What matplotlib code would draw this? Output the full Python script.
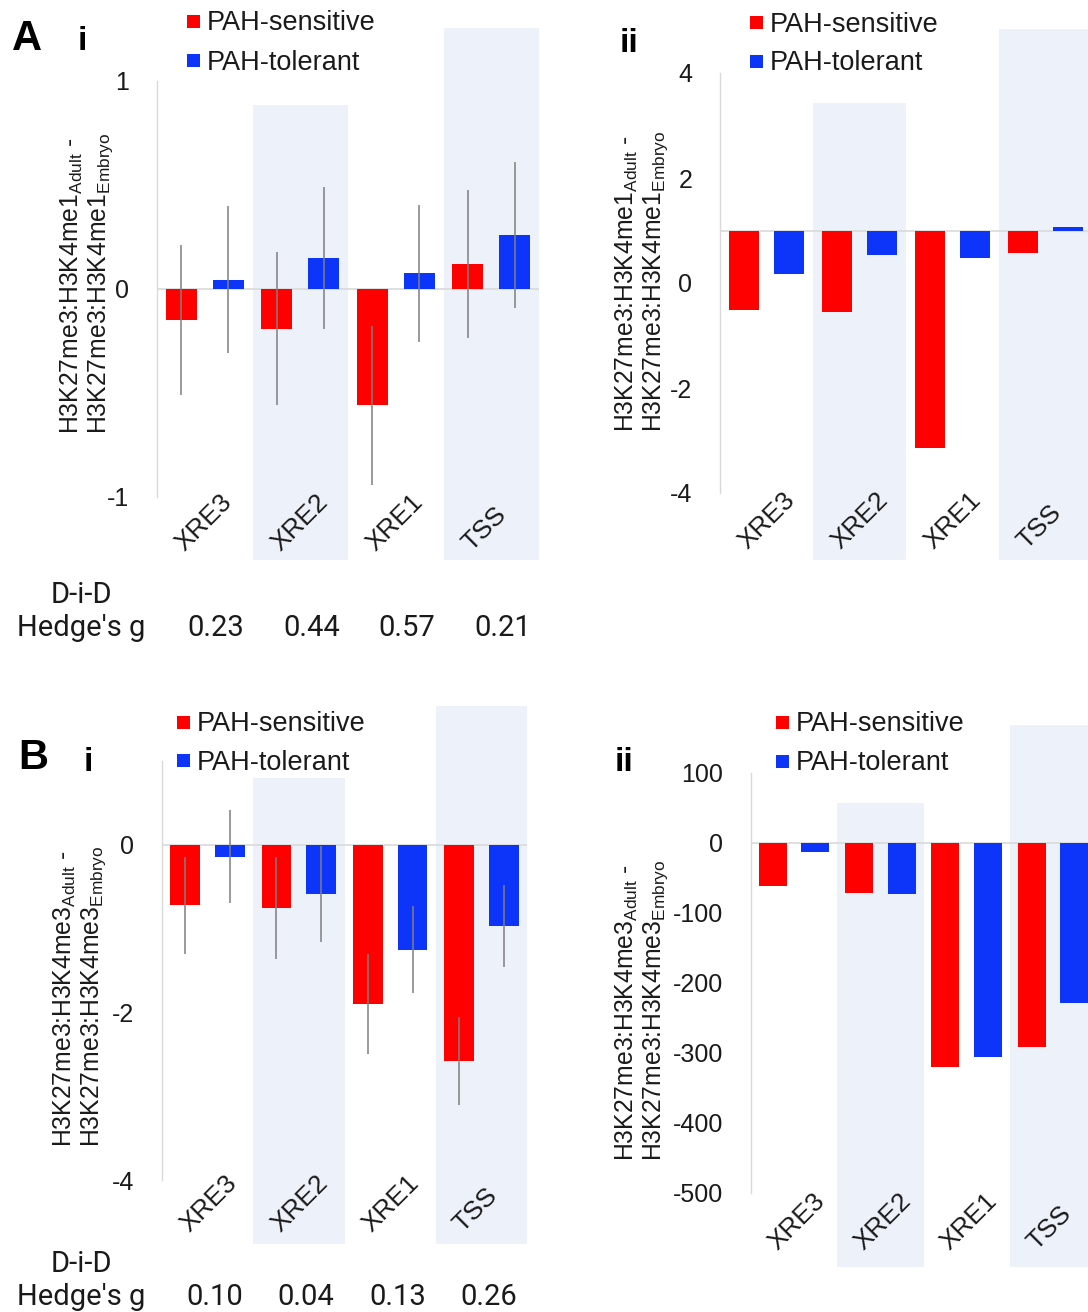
import matplotlib
matplotlib.use("Agg")
import matplotlib.pyplot as plt
from matplotlib.patches import Rectangle
import matplotlib.transforms as mtransforms
import numpy as np

plt.rcParams['font.family'] = ['Liberation Sans', 'DejaVu Sans']
plt.rcParams['mathtext.fontset'] = 'custom'
plt.rcParams['mathtext.rm'] = 'Liberation Sans'
plt.rcParams['mathtext.it'] = 'Liberation Sans'
plt.rcParams['mathtext.bf'] = 'Liberation Sans:bold'

# ---------------- data ----------------
categories = ['XRE3', 'XRE2', 'XRE1', 'TSS']
series_names = ['PAH-sensitive', 'PAH-tolerant']

a_i_sensitive = [-0.15, -0.19, -0.56, 0.12]
a_i_tolerant = [0.045, 0.15, 0.075, 0.26]
a_i_sensitive_err = [0.36, 0.37, 0.38, 0.355]
a_i_tolerant_err = [0.355, 0.34, 0.33, 0.35]

a_ii_sensitive = [-0.51, -0.55, -3.14, 0.57]
a_ii_tolerant = [0.18, 0.54, 0.47, 1.07]
a_ii_baseline = 1.0

b_i_sensitive = [-0.72, -0.75, -1.90, -2.58]
b_i_tolerant = [-0.145, -0.59, -1.25, -0.97]
b_i_sensitive_err = [0.58, 0.61, 0.60, 0.53]
b_i_tolerant_err = [0.555, 0.57, 0.52, 0.49]

b_ii_sensitive = [-62, -72, -320, -291]
b_ii_tolerant = [-13, -73, -306, -229]

hedges_a = ['0.23', '0.44', '0.57', '0.21']
hedges_b = ['0.10', '0.04', '0.13', '0.26']

a_yticks_i = [-1, 0, 1]
a_yticks_ii = [-4, -2, 0, 2, 4]
b_yticks_i = [-4, -2, 0]
b_yticks_ii = [-500, -400, -300, -200, -100, 0, 100]

# ---------------- styling ----------------
W, H = 1088, 1312
RED = '#FF0000'
BLUE = '#0D35FA'
BAND = '#EDF2FA'
GRID = '#D9D9D9'
ERR = '#7F7F7F'
TXT = '#1A1A1A'

fig = plt.figure(figsize=(W / 100, H / 100), dpi=100)


def fx(x):
    return x / W


def fy(y):
    return 1 - y / H


def make_ax(left, right, top, bottom):
    ax = fig.add_axes([fx(left), fy(bottom), (right - left) / W, (bottom - top) / H])
    ax.patch.set_alpha(0)
    for s in ['top', 'right', 'bottom']:
        ax.spines[s].set_visible(False)
    ax.spines['left'].set_color(GRID)
    ax.spines['left'].set_linewidth(1.0)
    ax.tick_params(axis='y', length=0, pad=20, labelsize=18, labelcolor=TXT)
    ax.set_xticks([])
    ax.set_xlim(-0.5, len(categories) - 0.5)
    return ax


def draw_panel(ax, sens, tol, ylim, yticks, baseline=0.0, sens_err=None, tol_err=None,
               bands=None, xlab_y=556):
    x = np.arange(len(categories))
    off, w = 0.246, 0.325
    trans = mtransforms.blended_transform_factory(ax.transData, fig.transFigure)
    # shaded bands
    for k, (y0, y1) in bands.items():
        ax.add_patch(Rectangle((k - 0.5, fy(y1)), 1.0, (y1 - y0) / H, transform=trans,
                               facecolor=BAND, edgecolor='none', clip_on=False, zorder=0))
    ax.axhline(baseline, color=GRID, lw=1.2, zorder=1)
    s = np.array(sens, dtype=float)
    t = np.array(tol, dtype=float)
    ax.bar(x - off, s - baseline, bottom=baseline, width=w, color=RED, zorder=2)
    ax.bar(x + off, t - baseline, bottom=baseline, width=w, color=BLUE, zorder=2)
    if sens_err is not None:
        ax.errorbar(x - off, s, yerr=sens_err, fmt='none', ecolor=ERR, elinewidth=1.1,
                    capsize=0, zorder=3)
        ax.errorbar(x + off, t, yerr=tol_err, fmt='none', ecolor=ERR, elinewidth=1.1,
                    capsize=0, zorder=3)
    ax.set_ylim(*ylim)
    ax.set_yticks(yticks)
    ax.set_yticklabels([str(v) for v in yticks])
    for i, c in enumerate(categories):
        ax.text(i - 0.35, fy(xlab_y), c, transform=trans, rotation=45, ha='left',
                va='bottom', fontsize=19, color=TXT, clip_on=False)
    return trans


def legend(x, y1, y2):
    for yy, col, name in [(y1, RED, series_names[0]), (y2, BLUE, series_names[1])]:
        fig.patches.append(Rectangle((fx(x), fy(yy + 6.5)), 13 / W, 13 / H,
                                     transform=fig.transFigure, facecolor=col,
                                     edgecolor='none'))
        fig.text(fx(x + 20), fy(yy + 9.5), name, fontsize=19.5, color=TXT,
                 ha='left', va='baseline')


def ylabel(x1, x2, ybottom, mark):
    fig.text(fx(x1), fy(ybottom),
             r'H3K27me3:H3K4me%s$_{\mathrm{Adult}}$ -' % mark,
             rotation=90, fontsize=17.8, ha='center', va='bottom', color=TXT)
    fig.text(fx(x2), fy(ybottom),
             r'H3K27me3:H3K4me%s$_{\mathrm{Embryo}}$' % mark,
             rotation=90, fontsize=17.8, ha='center', va='bottom', color=TXT)


# ---------------- A i ----------------
ax1 = make_ax(157, 539, 81, 497)
tr1 = draw_panel(ax1, a_i_sensitive, a_i_tolerant, (-1, 1), a_yticks_i,
                 sens_err=a_i_sensitive_err, tol_err=a_i_tolerant_err,
                 bands={1: (105, 560), 3: (28, 560)}, xlab_y=556)
legend(187, 21, 60)
ylabel(72, 101, 434, '1')

# ---------------- A ii ----------------
ax2 = make_ax(720, 1092, 73, 493)
draw_panel(ax2, a_ii_sensitive, a_ii_tolerant, (-4, 4), a_yticks_ii,
           baseline=a_ii_baseline, bands={1: (103, 560), 3: (29, 560)}, xlab_y=554)
legend(750, 22, 61)
ylabel(627, 656, 432, '1')

# ---------------- B i ----------------
ax3 = make_ax(162, 527, 761, 1180)
tr3 = draw_panel(ax3, b_i_sensitive, b_i_tolerant, (-4, 1), b_yticks_i,
                 sens_err=b_i_sensitive_err, tol_err=b_i_tolerant_err,
                 bands={1: (778, 1244), 3: (706, 1244)}, xlab_y=1237)
legend(177, 722, 760)
ylabel(65, 94, 1147, '3')

# ---------------- B ii ----------------
ax4 = make_ax(751, 1096, 773, 1193)
draw_panel(ax4, b_ii_sensitive, b_ii_tolerant, (-500, 100), b_yticks_ii,
           bands={1: (803, 1267), 3: (725, 1267)}, xlab_y=1255)
legend(776, 722, 761)
ylabel(627, 656, 1161, '3')

# ---------------- panel letters ----------------
fig.text(fx(12), fy(50), 'A', fontsize=30, fontweight='bold', ha='left', va='baseline')
fig.text(fx(82), fy(50), 'i', fontsize=24, fontweight='bold', ha='center', va='baseline')
fig.text(fx(629), fy(52), 'ii', fontsize=24, fontweight='bold', ha='center', va='baseline')
fig.text(fx(18), fy(769), 'B', fontsize=30, fontweight='bold', ha='left', va='baseline')
fig.text(fx(88), fy(771), 'i', fontsize=24, fontweight='bold', ha='center', va='baseline')
fig.text(fx(624), fy(771), 'ii', fontsize=24, fontweight='bold', ha='center', va='baseline')

# ---------------- D-i-D / Hedge's g rows ----------------
for tr, vals, ydid, yg, shift in [(tr1, hedges_a, 603, 636, 0.12), (tr3, hedges_b, 1272, 1305, 0.08)]:
    fig.text(fx(81), fy(ydid), 'D-i-D', fontsize=21, family='Roboto', ha='center',
             va='baseline', color=TXT)
    fig.text(fx(81), fy(yg), "Hedge's g", fontsize=21, family='Roboto', ha='center',
             va='baseline', color=TXT)
    for i, v in enumerate(vals):
        fig.text(i + shift, fy(yg), v, transform=tr, fontsize=21, family='Roboto',
                 ha='center', va='baseline', color=TXT)

fig.savefig('out.png', dpi=100)
